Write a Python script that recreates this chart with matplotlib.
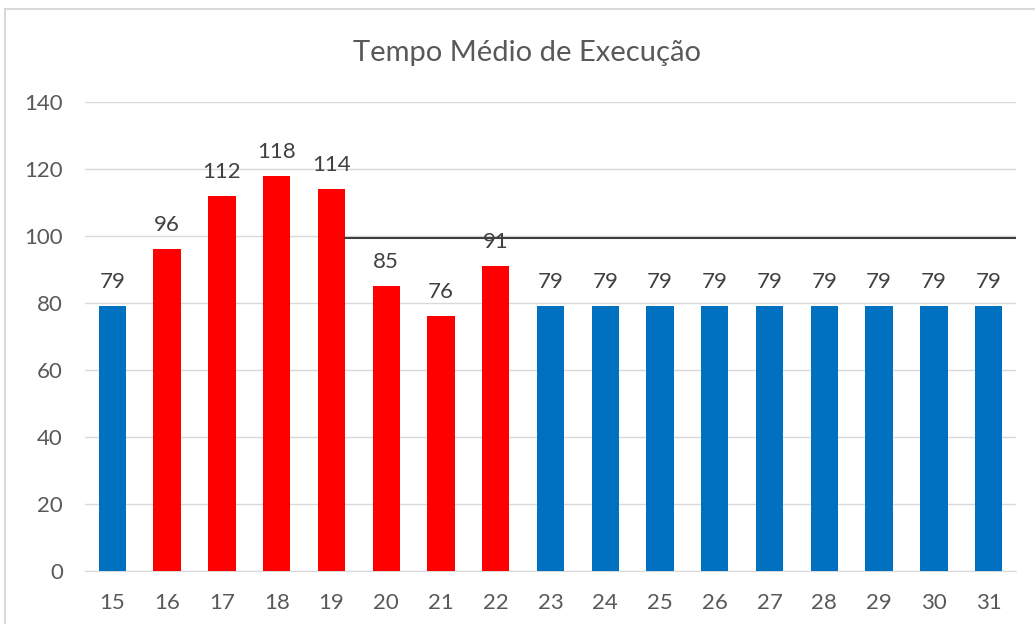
import matplotlib
matplotlib.use("Agg")
import matplotlib.pyplot as plt
from matplotlib.lines import Line2D

dias = ['15', '16', '17', '18', '19', '20', '21', '22', '23', '24', '25', '26', '27', '28', '29', '30', '31']
tempos = [79, 96, 112, 118, 114, 85, 76, 91, 79, 79, 79, 79, 79, 79, 79, 79, 79]
destaque = [False, True, True, True, True, True, True, True, False, False, False, False, False, False, False, False, False]
limite = 99.4
limite_inicio = 4.25

plt.rcParams['font.family'] = ['Lato', 'DejaVu Sans']

fig = plt.figure(figsize=(10.35, 6.24), dpi=100)
ax = fig.add_axes([85 / 1035, 1 - 571 / 624, (1016 - 85) / 1035, (571 - 102) / 624])

cores = ['#FF0000' if d else '#0070C0' for d in destaque]
x = list(range(len(dias)))
ax.bar(x, tempos, width=0.5, color=cores, zorder=2)

for xi, v in zip(x, tempos):
    ax.annotate(str(v), (xi, v), xytext=(0, 13), textcoords='offset points',
                ha='center', va='baseline', fontsize=16, color='#404040', zorder=4)

ax.plot([limite_inicio, len(dias) - 0.5], [limite, limite], color='#404040', lw=1.5, zorder=3)

ax.set_xlim(-0.5, len(dias) - 0.5)
ax.set_ylim(0, 140)
ax.set_yticks(range(0, 141, 20))
ax.set_xticks(x)
ax.set_xticklabels(dias)
ax.tick_params(axis='both', length=0, labelsize=16, colors='#595959')
ax.tick_params(axis='y', pad=16)
ax.tick_params(axis='x', pad=16)
ax.grid(axis='y', color='#D9D9D9', lw=1, zorder=0)
for s in ['top', 'right', 'left']:
    ax.spines[s].set_visible(False)
ax.spines['bottom'].set_color('#D9D9D9')
ax.spines['bottom'].set_zorder(1)

fig.text(527 / 1035, 1 - 53 / 624, 'Tempo Médio de Execução', ha='center', va='center',
         fontsize=21, color='#595959')

# moldura do gráfico (cortada à direita e embaixo)
fig.add_artist(Line2D([4.5 / 1035, 4.5 / 1035], [0, 1 - 9 / 624], color='#D9D9D9', lw=1.5))
fig.add_artist(Line2D([4.5 / 1035, 1], [1 - 9 / 624, 1 - 9 / 624], color='#D9D9D9', lw=1.5))

fig.savefig('out.png', dpi=100)
